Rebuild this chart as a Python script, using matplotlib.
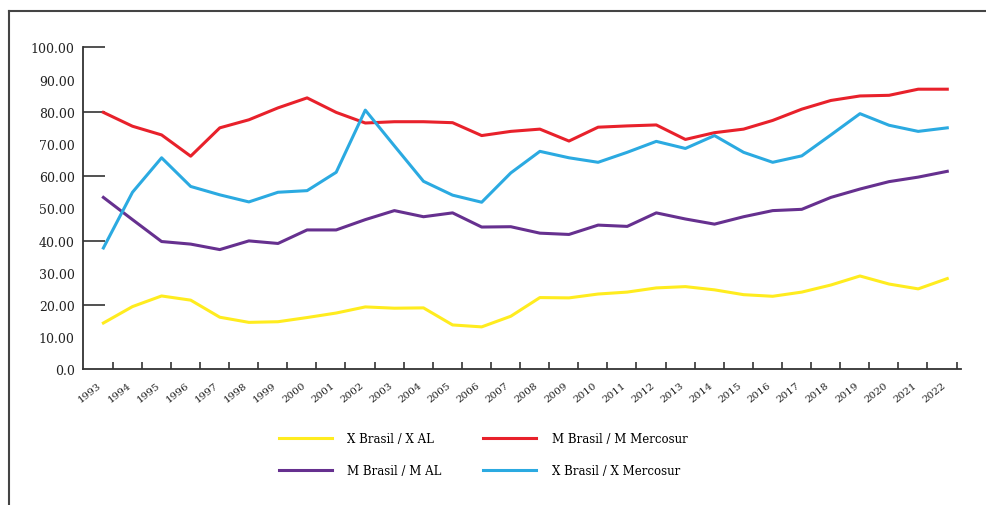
import matplotlib
matplotlib.use("Agg")
import matplotlib.pyplot as plt
from matplotlib.lines import Line2D

years = list(range(1993, 2023))

x_brasil_x_al = [14.4, 19.5, 22.8, 21.5, 16.2, 14.6, 14.8, 16.1, 17.5, 19.4,
                 19.0, 19.1, 13.8, 13.2, 16.5, 22.3, 22.2, 23.4, 24.0, 25.3,
                 25.7, 24.7, 23.2, 22.7, 24.0, 26.2, 29.0, 26.5, 25.0, 28.2]
m_brasil_m_al = [53.4, 46.5, 39.7, 38.9, 37.2, 39.9, 39.1, 43.3, 43.3, 46.5,
                 49.3, 47.4, 48.6, 44.2, 44.3, 42.3, 41.9, 44.8, 44.4, 48.6,
                 46.7, 45.1, 47.4, 49.3, 49.7, 53.4, 56.0, 58.3, 59.7, 61.5]
m_brasil_m_mercosur = [79.8, 75.5, 72.8, 66.2, 75.0, 77.5, 81.2, 84.3, 79.8, 76.5,
                       76.9, 76.9, 76.6, 72.6, 73.9, 74.6, 70.9, 75.2, 75.6, 75.9,
                       71.4, 73.5, 74.6, 77.3, 80.8, 83.5, 84.9, 85.1, 87.0, 87.0]
x_brasil_x_mercosur = [37.7, 55.0, 65.7, 56.8, 54.2, 52.0, 55.0, 55.5, 61.2, 80.5,
                       69.4, 58.4, 54.1, 51.9, 61.0, 67.7, 65.7, 64.3, 67.4, 70.8,
                       68.6, 72.6, 67.4, 64.3, 66.3, 72.8, 79.4, 75.8, 73.9, 75.0]

yticks = [0, 10, 20, 30, 40, 50, 60, 70, 80, 90, 100]
ytick_labels = ["0.0"] + ["%.2f" % v for v in yticks[1:]]

plt.rcParams['font.family'] = ['DejaVu Serif']

fig = plt.figure(figsize=(9.86, 5.06), dpi=100)
ax = fig.add_axes([0.0842, 0.268, 0.8904, 0.6365])

lw = 2.2
ax.plot(years, x_brasil_x_al, color='#FFEC1F', lw=lw, label='X Brasil / X AL')
ax.plot(years, m_brasil_m_al, color='#66308F', lw=lw, label='M Brasil / M AL')
ax.plot(years, m_brasil_m_mercosur, color='#E8212B', lw=lw, label='M Brasil / M Mercosur')
ax.plot(years, x_brasil_x_mercosur, color='#2BAAE1', lw=lw, label='X Brasil / X Mercosur')

ax.set_xlim(1993 - 0.70, 1993 + 29.47)
ax.set_ylim(0, 100)

for s in ['top', 'right']:
    ax.spines[s].set_visible(False)
for s in ['left', 'bottom']:
    ax.spines[s].set_color('#333333')
    ax.spines[s].set_linewidth(1.3)

# y labels every 10, inward marks every 20
ax.yaxis.remove_overlapping_locs = False
ax.set_yticks(yticks)
ax.set_yticklabels(ytick_labels, fontsize=9, color='#222222')
ax.set_yticks([20, 40, 60, 80, 100], minor=True)
ax.tick_params(axis='y', which='major', length=0, pad=6)
ax.tick_params(axis='y', which='minor', direction='in', length=16, width=1.1, color='#222222')
# the 40 and 80 marks are grey in the original
for t, c in zip(ax.yaxis.get_minor_ticks(), ['#222222', '#777777', '#222222', '#777777', '#222222']):
    t.tick1line.set_color(c)

# x labels under points, short marks between categories
ax.set_xticks(years)
ax.set_xticklabels([str(y) for y in years], fontsize=7.5, rotation=38, ha='right', color='#222222')
ax.set_xticks([y + 0.32 for y in years], minor=True)
ax.tick_params(axis='x', which='major', length=0, pad=8)
ax.tick_params(axis='x', which='minor', direction='in', length=5, width=1.1, color='#222222')

handles, labels = ax.get_legend_handles_labels()
fig.legend(handles, labels, loc='center', bbox_to_anchor=(0.49, 0.1), ncol=2,
           frameon=False, fontsize=8.5, handlelength=4.5, handletextpad=1.3,
           columnspacing=3.5, labelspacing=1.6)

# outer frame (top and left edges only)
fig.add_artist(Line2D([9 / 986, 1], [1 - 12 / 506, 1 - 12 / 506], color='#444444', lw=1.5,
                      transform=fig.transFigure))
fig.add_artist(Line2D([9 / 986, 9 / 986], [0, 1 - 12 / 506], color='#444444', lw=1.5,
                      transform=fig.transFigure))

fig.savefig('out.png', dpi=100)
